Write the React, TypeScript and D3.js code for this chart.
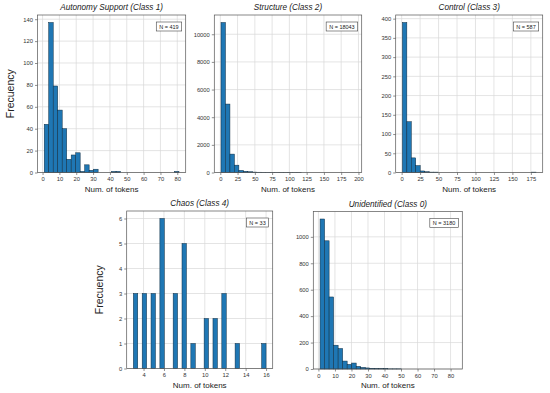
import { useRef, useEffect } from 'react';
import * as d3 from 'd3';

// histogram bin counts (30 equal bins between min and max token count)
const autonomyCounts = [44, 137, 79, 57, 40, 12, 16, 18, 1, 7, 2, 3, 0, 0, 0, 1, 1, 0, 0, 0, 0, 0, 0, 0, 0, 0, 0, 0, 0, 1];
const autonomyRange = [1, 81];
const structureCounts = [10850, 4950, 1330, 530, 150, 90, 55, 30, 20, 12, 8, 6, 4, 3, 2, 1, 1, 1, 0, 0, 0, 0, 0, 0, 0, 0, 0, 0, 0, 0];
const structureRange = [1, 195];
const controlCounts = [390, 132, 38, 18, 4, 2, 1, 1, 0, 0, 0, 0, 0, 0, 0, 0, 0, 0, 0, 0, 0, 0, 0, 0, 0, 0, 0, 0, 0, 1];
const controlRange = [1, 182];
const chaosCounts = [3, 0, 3, 0, 3, 0, 6, 0, 0, 3, 0, 5, 0, 1, 0, 0, 2, 0, 2, 0, 3, 0, 0, 1, 0, 0, 0, 0, 0, 1];
const chaosRange = [3, 16];
const unidentifiedCounts = [1135, 970, 545, 180, 155, 60, 35, 45, 20, 12, 8, 5, 3, 2, 2, 1, 1, 1, 0, 0, 0, 0, 0, 0, 0, 0, 0, 0, 0, 0];
const unidentifiedRange = [1, 83];

const titles = ['Autonomy Support (Class 1)', 'Structure (Class 2)', 'Control (Class 3)', 'Chaos (Class 4)', 'Unidentified (Class 0)'];
const totals = [419, 18043, 587, 33, 3180];

const xTicks = [
  [0, 10, 20, 30, 40, 50, 60, 70, 80],
  [0, 25, 50, 75, 100, 125, 150, 175, 200],
  [0, 25, 50, 75, 100, 125, 150, 175],
  [4, 6, 8, 10, 12, 14, 16],
  [0, 10, 20, 30, 40, 50, 60, 70, 80],
];
const yTicks = [
  [0, 20, 40, 60, 80, 100, 120, 140],
  [0, 2000, 4000, 6000, 8000, 10000],
  [0, 50, 100, 150, 200, 250, 300, 350, 400],
  [0, 1, 2, 3, 4, 5, 6],
  [0, 200, 400, 600, 800, 1000],
];

const allCounts = [autonomyCounts, structureCounts, controlCounts, chaosCounts, unidentifiedCounts];
const allRanges = [autonomyRange, structureRange, controlRange, chaosRange, unidentifiedRange];

// frame boxes in pixels: left, top, right, bottom
const boxes = [
  [37.5, 15, 185.7, 172.5],
  [214.3, 15, 361.7, 172.5],
  [395.7, 15, 542.7, 172.5],
  [126.7, 211, 272.7, 368.5],
  [313.3, 211.5, 462.3, 369],
];
const showYLabel = [true, false, false, true, false];

const FONT = '"Liberation Sans", Arial, sans-serif';

const App = () => {
  const ref = useRef<SVGSVGElement>(null);

  useEffect(() => {
    const svg = d3.select(ref.current);
    svg.selectAll('*').remove();
    svg.append('rect').attr('width', 550).attr('height', 393).attr('fill', '#fff');

    allCounts.forEach((counts, p) => {
      const [l, t, r, b] = boxes[p];
      const w = r - l;
      const h = b - t;
      const [lo, hi] = allRanges[p];
      const span = hi - lo;
      const binW = span / counts.length;
      const x = d3.scaleLinear().domain([lo - 0.05 * span, hi + 0.05 * span]).range([0, w]);
      const y = d3.scaleLinear().domain([0, d3.max(counts)! * 1.05]).range([h, 0]);

      const g = svg.append('g').attr('transform', `translate(${l},${t})`);

      // grid
      g.append('g').selectAll('line').data(xTicks[p]).join('line')
        .attr('x1', d => x(d)).attr('x2', d => x(d)).attr('y1', 0).attr('y2', h)
        .attr('stroke', '#d9d9d9').attr('stroke-width', 0.7);
      g.append('g').selectAll('line').data(yTicks[p]).join('line')
        .attr('x1', 0).attr('x2', w).attr('y1', d => y(d)).attr('y2', d => y(d))
        .attr('stroke', '#d9d9d9').attr('stroke-width', 0.7);

      // bars
      const bins = counts.map((c, i) => ({ c, x0: lo + i * binW, x1: lo + (i + 1) * binW })).filter(d => d.c > 0);
      g.append('g').selectAll('rect').data(bins).join('rect')
        .attr('x', d => x(d.x0))
        .attr('width', d => x(d.x1) - x(d.x0))
        .attr('y', d => y(d.c))
        .attr('height', d => h - y(d.c))
        .attr('fill', '#1f77b4')
        .attr('stroke', '#0d2b40')
        .attr('stroke-width', 0.5);

      // axes
      const ax = g.append('g').attr('transform', `translate(0,${h})`)
        .call(d3.axisBottom(x).tickValues(xTicks[p]).tickSize(2.5).tickPadding(2).tickFormat(d3.format('d')));
      const ay = g.append('g')
        .call(d3.axisLeft(y).tickValues(yTicks[p]).tickSize(2.5).tickPadding(2).tickFormat(d3.format('d')));
      [ax, ay].forEach(a => {
        a.select('.domain').remove();
        a.selectAll('line').attr('stroke', '#444').attr('stroke-width', 0.6);
        a.selectAll('text').attr('font-size', 5.8).attr('font-family', FONT).attr('fill', '#333');
      });

      // frame
      g.append('rect').attr('width', w).attr('height', h)
        .attr('fill', 'none').attr('stroke', '#555').attr('stroke-width', 0.7);

      // title
      g.append('text').attr('x', w / 2).attr('y', -5)
        .attr('text-anchor', 'middle').attr('font-style', 'italic')
        .attr('font-size', 8.2).attr('font-family', FONT).attr('fill', '#222')
        .text(titles[p]);

      // x label
      g.append('text').attr('x', w / 2).attr('y', h + 19)
        .attr('text-anchor', 'middle')
        .attr('font-size', 8).attr('font-family', FONT).attr('fill', '#222')
        .text('Num. of tokens');

      if (showYLabel[p]) {
        g.append('text')
          .attr('transform', `translate(${-24},${h / 2}) rotate(-90)`)
          .attr('text-anchor', 'middle')
          .attr('font-size', 10.5).attr('font-family', FONT).attr('fill', '#222')
          .text('Frecuency');
      }

      // N box
      const nb = g.append('g');
      const nt = nb.append('text')
        .attr('font-size', 5.5).attr('font-family', FONT).attr('fill', '#222')
        .text(`N = ${totals[p]}`);
      const tw = (nt.node() as SVGTextElement).getComputedTextLength();
      const bw = tw + 6;
      const bx = w - 4 - bw;
      const by = 7;
      nb.insert('rect', 'text').attr('x', bx).attr('y', by).attr('width', bw).attr('height', 9)
        .attr('fill', '#fff').attr('stroke', '#444').attr('stroke-width', 0.6);
      nt.attr('x', bx + 3).attr('y', by + 6.5);
    });
  }, []);

  return (
    <svg ref={ref} width={550} height={393} style={{ position: 'absolute', left: 0, top: 0 }} />
  );
};

export default App;
